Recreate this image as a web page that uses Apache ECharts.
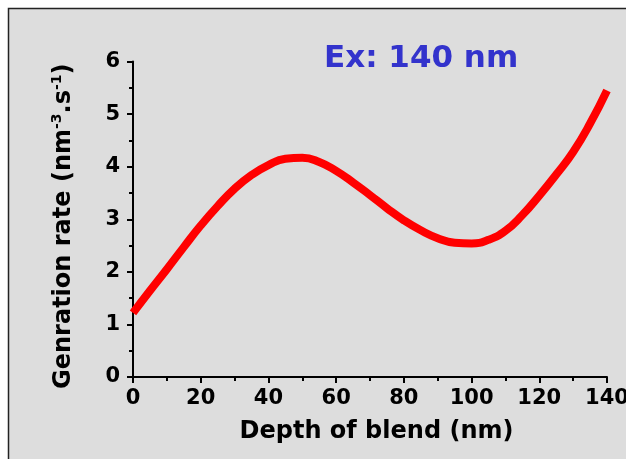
<!DOCTYPE html>
<html><head><meta charset="utf-8">
<script src="https://cdn.jsdelivr.net/npm/echarts@6/dist/echarts.min.js"></script>
<style>html,body{margin:0;padding:0;background:#fff}#c{width:626px;height:459px}</style>
</head><body><div id="c"></div>
<script>
var depth = [0,5,10,15,20,25,30,35,40,45,50,55,60,65,70,75,80,85,90,95,100,105,110,115,120,125,130,135,140];
var rate = [1.22,1.64,2.05,2.47,2.88,3.25,3.58,3.84,4.03,4.15,4.17,4.09,3.92,3.70,3.46,3.21,2.98,2.79,2.64,2.555,2.54,2.61,2.78,3.08,3.45,3.85,4.28,4.82,5.45];
var xTicks = [0,20,40,60,80,100,120,140];
var yTicks = [0,1,2,3,4,5,6];
var annotation = 'Ex: 140 nm';

var chart = echarts.init(document.getElementById('c'), null, {renderer:'canvas'});
var F = '"DejaVu Sans", sans-serif';
var data = depth.map(function(d,i){return [d, rate[i]];});
chart.setOption({
  animation:false,
  graphic:[
    {type:'rect', z:-10, shape:{x:8.5,y:8.5,width:700,height:500}, style:{fill:'#dddddd', stroke:'#222', lineWidth:1.5}},
    {type:'text', left:324, top:43, style:{text:annotation, fill:'#3333cc', font:'bold 31px '+F}}
  ],
  grid:{left:133, right:19, top:61.5, bottom:82, containLabel:false, outerBoundsMode:'none'},
  xAxis:{type:'value', min:0, max:140, interval:20,
    axisLine:{show:true, onZero:false, lineStyle:{color:'#000', width:2}},
    axisTick:{show:true, inside:false, length:6, lineStyle:{color:'#000', width:2}},
    minorTick:{show:true, splitNumber:2, length:4, lineStyle:{color:'#000', width:2}},
    splitLine:{show:false},
    axisLabel:{color:'#000', fontFamily:F, fontWeight:'bold', fontSize:21, margin:11, showMaxLabel:true,
      formatter:function(v){return xTicks.indexOf(v)>=0?String(v):'';}},
    name:'Depth of blend (nm)', nameLocation:'middle', nameGap:43,
    nameTextStyle:{color:'#000', fontFamily:F, fontWeight:'bold', fontSize:24, padding:[0,0,0,13]}
  },
  yAxis:{type:'value', min:0, max:6, interval:1,
    axisLine:{show:true, onZero:false, lineStyle:{color:'#000', width:2}},
    axisTick:{show:true, inside:false, length:6, lineStyle:{color:'#000', width:2}},
    minorTick:{show:true, splitNumber:2, length:4, lineStyle:{color:'#000', width:2}},
    splitLine:{show:false},
    axisLabel:{color:'#000', fontFamily:F, fontWeight:'bold', fontSize:21, margin:13,
      formatter:function(v){return yTicks.indexOf(v)>=0?String(v):'';}},
    name:'{a|Genration rate (nm}{s|-3}{a|.s}{s|-1}{a|)}', nameLocation:'middle', nameGap:55, nameRotate:90,
    nameTextStyle:{color:'#000', fontFamily:F, fontWeight:'bold', fontSize:24, padding:[0,14,0,0],
      rich:{a:{color:'#000', fontFamily:F, fontWeight:'bold', fontSize:24, height:28},
            s:{color:'#000', fontFamily:F, fontWeight:'bold', fontSize:14, verticalAlign:'top', padding:[0,0,14,0]}}}
  },
  series:[{type:'line', data:data, smooth:true, showSymbol:false, clip:false,
    lineStyle:{color:'#ff0000', width:8}}]
});
</script></body></html>
